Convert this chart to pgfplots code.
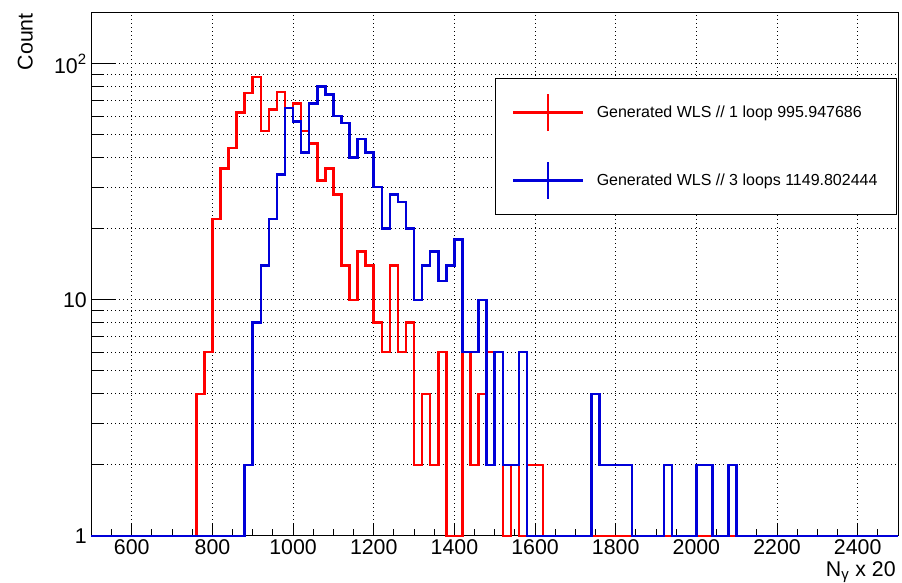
\documentclass[border=0pt]{standalone}
\usepackage{fontspec}
\setmainfont{Liberation Sans}
\usepackage{pgfplots}
\pgfplotsset{compat=1.18}
\definecolor{rootred}{rgb}{1,0,0}
\definecolor{rootblue}{rgb}{0,0,0.85}
\begin{document}
\begin{tikzpicture}
\begin{axis}[
  scale only axis, width=605pt, height=392.25pt,
  ymode=log, xmin=500, xmax=2500, ymin=1, ymax=164,
  clip=false,
  axis line style={line width=0.75pt},
  xtick={600,800,...,2400}, minor xtick={500,550,...,2500},
  ytick={1,10,100}, yticklabels={1,10,10\textsuperscript{2}},
  xtick pos=left, ytick pos=left, tick align=inside,
  tick style={black, line width=0.75pt},
  xtick style={/pgfplots/major tick length=10pt,/pgfplots/minor tick length=5pt},
  ytick style={/pgfplots/major tick length=17.5pt,/pgfplots/minor tick length=9pt},
  xmajorgrids, ymajorgrids, yminorgrids,
  grid style={black, line width=0.75pt, dash pattern=on 0.75pt off 2.25pt},
  /pgf/number format/assume math mode=true,
  /pgf/number format/1000 sep={},
  tick label style={font=\fontsize{16}{19}\selectfont},
  xticklabel style={inner sep=0pt, yshift=-2.5pt},
  label style={font=\fontsize{16}{19}\selectfont},
  xlabel={N\textsubscript{γ} x 20},
  ylabel={Count},
  xlabel style={at={(axis description cs:1,0)}, anchor=north east, inner sep=0pt, yshift=-19pt, xshift=-1.5pt},
  ylabel style={at={(axis description cs:-0.0725,1)}, anchor=south east, inner sep=0pt},
  legend image code/.code={
    \draw[#1, line cap=butt] (0pt,0pt) -- (52.5pt,0pt);
    \draw[#1, line cap=butt] (26.25pt,-14pt) -- (26.25pt,14pt);
  },
  legend cell align=left,
  legend style={at={(axis description cs:0.5,0.8757)}, anchor=north west,
    draw=black, line width=0.75pt, fill=white,
    inner xsep=12.5pt, inner ysep=10.5pt, row sep=21pt, column sep=7.25pt,
    font=\fontsize{12}{14.4}\selectfont},
]
% 1 loop (bin left edge, count); bins of width 20
\addplot[rootred, line width=1.9pt, const plot mark left] coordinates {
(500,1) (760,4) (780,6) (800,22) (820,36) (840,44) (860,62) (880,75)
(900,88) (920,52) (940,64) (960,76) (980,65) (1000,68) (1020,52) (1040,46)
(1060,32) (1080,36) (1100,28) (1120,14) (1140,10) (1160,16) (1180,14)
(1200,8) (1220,6) (1240,14) (1260,6) (1280,8) (1300,2) (1320,4) (1340,2)
(1360,6) (1380,1) (1420,6) (1440,2) (1460,4) (1480,6) (1520,1) (1540,2)
(1560,1) (1580,2) (1620,1) (2500,1)
};
\addlegendentry{Generated WLS // 1 loop 995.947686}
% 3 loops
\addplot[rootblue, line width=1.9pt, const plot mark left] coordinates {
(500,1) (880,2) (900,8) (920,14) (940,22) (960,34) (980,65) (1000,57)
(1020,42) (1040,68) (1060,80) (1080,74) (1100,60) (1120,56) (1140,40)
(1160,48) (1180,42) (1200,30) (1220,20) (1240,28) (1260,26) (1280,20)
(1300,10) (1320,14) (1340,16) (1360,12) (1380,14) (1400,18) (1420,6)
(1460,10) (1480,2) (1500,6) (1520,2) (1560,6) (1580,1) (1740,4) (1760,2)
(1840,1) (1920,2) (1940,1) (2000,2) (2040,1) (2080,2) (2100,1) (2500,1)
};
\addlegendentry{Generated WLS // 3 loops 1149.802444}
\end{axis}
\path ([shift={(-68.6pt,-32.25pt)}]current axis.south west) rectangle ([shift={(3pt,9.75pt)}]current axis.north east);
\end{tikzpicture}
\end{document}
